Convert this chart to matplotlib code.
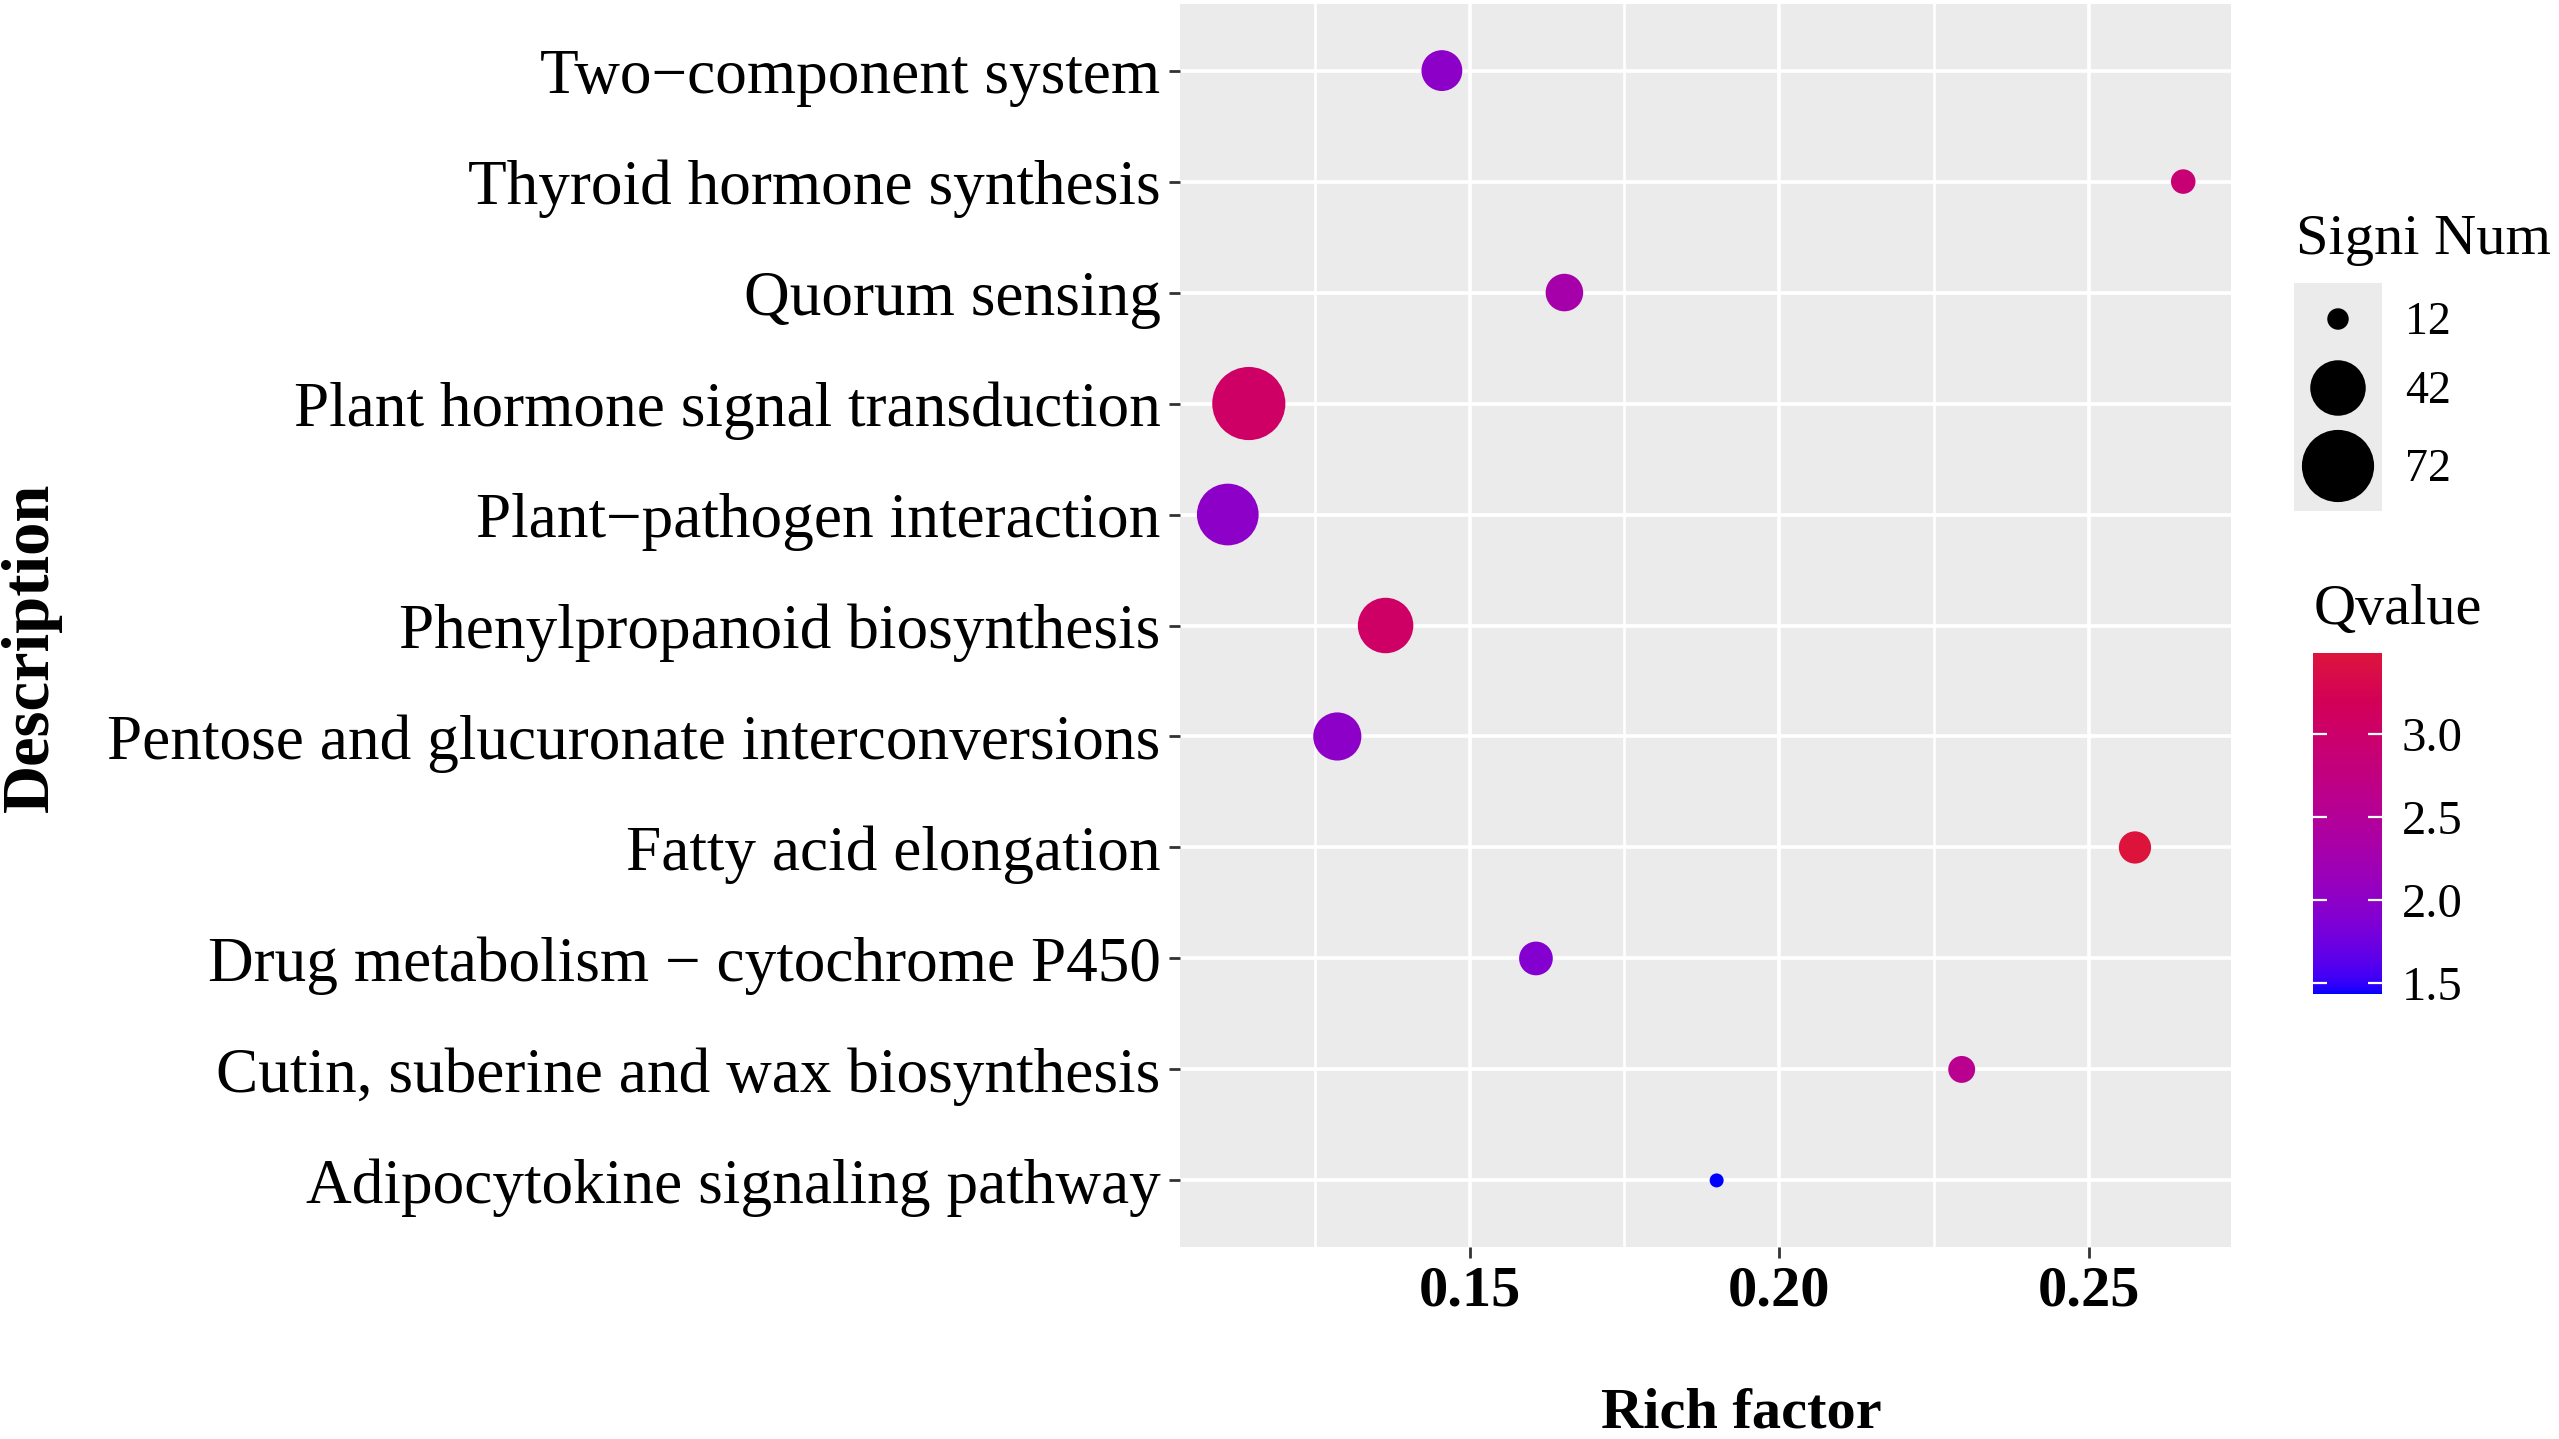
import numpy as np
import matplotlib
matplotlib.use("Agg")
import matplotlib.pyplot as plt
from matplotlib.colors import ListedColormap, Normalize, to_rgb
from matplotlib.cm import ScalarMappable

plt.rcParams['font.family'] = ['Liberation Serif', 'DejaVu Serif']

# pathways, listed top to bottom as in the chart
descriptions = [
    "Two\u2212component system",
    "Thyroid hormone synthesis",
    "Quorum sensing",
    "Plant hormone signal transduction",
    "Plant\u2212pathogen interaction",
    "Phenylpropanoid biosynthesis",
    "Pentose and glucuronate interconversions",
    "Fatty acid elongation",
    "Drug metabolism \u2212 cytochrome P450",
    "Cutin, suberine and wax biosynthesis",
    "Adipocytokine signaling pathway",
]
rich_factor = [0.1455, 0.2653, 0.1653, 0.1143, 0.1109, 0.1364, 0.1286, 0.2575, 0.1607, 0.2295, 0.1899]
signi_num = [24, 13, 21, 74, 52, 42, 32, 17, 18, 14, 11]
qvalue = [2.0, 2.9, 2.3, 3.05, 2.0, 3.05, 2.0, 3.488, 1.9, 2.6, 1.434]

size_breaks = [12, 42, 72]
q_breaks = [1.5, 2.0, 2.5, 3.0]

W, H, DPI = 2559, 1439, 100


# ggplot-like colour gradient (interpolated in Lab space)
def srgb_to_lab(rgb):
    c = np.asarray(rgb, float)
    lin = np.where(c <= 0.04045, c / 12.92, ((c + 0.055) / 1.055) ** 2.4)
    M = np.array([[0.4124, 0.3576, 0.1805], [0.2126, 0.7152, 0.0722], [0.0193, 0.1192, 0.9505]])
    xyz = M @ lin / np.array([0.95047, 1.0, 1.08883])
    d = 6 / 29
    f = np.where(xyz > d ** 3, np.cbrt(xyz), xyz / (3 * d ** 2) + 4 / 29)
    return np.array([116 * f[1] - 16, 500 * (f[0] - f[1]), 200 * (f[1] - f[2])])


def lab_to_srgb(lab):
    L, a, b = lab
    fy = (L + 16) / 116
    fx = fy + a / 500
    fz = fy - b / 200
    d = 6 / 29
    f = np.array([fx, fy, fz])
    xyz = np.where(f > d, f ** 3, 3 * d ** 2 * (f - 4 / 29)) * np.array([0.95047, 1.0, 1.08883])
    Minv = np.linalg.inv(np.array([[0.4124, 0.3576, 0.1805], [0.2126, 0.7152, 0.0722], [0.0193, 0.1192, 0.9505]]))
    lin = np.clip(Minv @ xyz, 0, 1)
    c = np.where(lin <= 0.0031308, 12.92 * lin, 1.055 * lin ** (1 / 2.4) - 0.055)
    return np.clip(c, 0, 1)


lo = srgb_to_lab(to_rgb("#0000FF"))
hi = srgb_to_lab(to_rgb("#DC143C"))
cmap = ListedColormap([lab_to_srgb(lo + (hi - lo) * t) for t in np.linspace(0, 1, 256)])
norm = Normalize(vmin=min(qvalue), vmax=max(qvalue))


def point_size(v):
    # diameter in pixels, area-style scale, converted to points^2
    v = np.asarray(v, float)
    d_px = 14 + 7.45 * np.sqrt(np.clip(v - min(signi_num), 0, None))
    return (d_px * 72 / DPI) ** 2


fig = plt.figure(figsize=(W / DPI, H / DPI), dpi=DPI)

def px_axes(x0, y0, x1, y1):
    return fig.add_axes([x0 / W, 1 - y1 / H, (x1 - x0) / W, (y1 - y0) / H])

ax = px_axes(1180, 4, 2231, 1247)
ax.set_facecolor("#EBEBEB")
for s in ax.spines.values():
    s.set_visible(False)

n = len(descriptions)
ypos = np.arange(n, 0, -1)
ax.scatter(rich_factor, ypos, s=point_size(signi_num), c=qvalue, cmap=cmap, norm=norm,
           linewidths=0, zorder=3)

xr = max(rich_factor) - min(rich_factor)
ax.set_xlim(min(rich_factor) - 0.05 * xr, max(rich_factor) + 0.05 * xr)
ax.set_ylim(0.4, n + 0.6)
ax.set_xticks([0.15, 0.20, 0.25])
ax.set_xticklabels(["0.15", "0.20", "0.25"], fontsize=42, fontweight="bold")
ax.set_xticks([0.125, 0.175, 0.225], minor=True)
ax.set_yticks(ypos)
ax.set_yticklabels(descriptions, fontsize=45.5)
ax.tick_params(axis="both", which="major", length=8, width=2, color="#333333")
ax.tick_params(axis="x", which="major", pad=5)
ax.tick_params(axis="y", which="major", pad=6)
ax.tick_params(axis="x", which="minor", length=0)
ax.grid(True, which="major", color="white", linewidth=2.6, zorder=0)
ax.grid(True, which="minor", axis="x", color="white", linewidth=1.9, zorder=0)
ax.set_axisbelow(True)

fig.text(31 / W, 1 - 647 / H, "Description", rotation=90, ha="center", va="center",
         fontsize=48, fontweight="bold")
fig.text(1741 / W, 1 - 1428 / H, "Rich factor", ha="center", va="baseline",
         fontsize=42, fontweight="bold")

# size legend
fig.text(2296 / W, 1 - 254 / H, "Signi Num", ha="left", va="baseline", fontsize=42)
lax = px_axes(2294, 283, 2382, 511)
lax.set_facecolor("#EBEBEB")
lax.set_xlim(0, 88)
lax.set_ylim(228, 0)
lax.set_xticks([])
lax.set_yticks([])
for s in lax.spines.values():
    s.set_visible(False)
key_y = [36, 105, 183]
lax.scatter([44] * len(size_breaks), key_y, s=point_size(size_breaks), c="black", linewidths=0)
for b, ky in zip(size_breaks, key_y):
    fig.text(2405 / W, 1 - (283 + ky + 15) / H, str(b), ha="left", va="baseline", fontsize=33)

# colour bar
fig.text(2314 / W, 1 - 624 / H, "Qvalue", ha="left", va="baseline", fontsize=42)
cax = px_axes(2313, 653, 2382, 994)
sm = ScalarMappable(norm=norm, cmap=cmap)
cb = fig.colorbar(sm, cax=cax, ticks=q_breaks)
cb.outline.set_visible(False)
cb.ax.set_yticklabels([f"{q:.1f}" for q in q_breaks], fontsize=35)
cb.ax.tick_params(direction="in", color="white", length=10, width=1.6, left=True, right=True, pad=14)

fig.savefig("out.png", dpi=DPI)
